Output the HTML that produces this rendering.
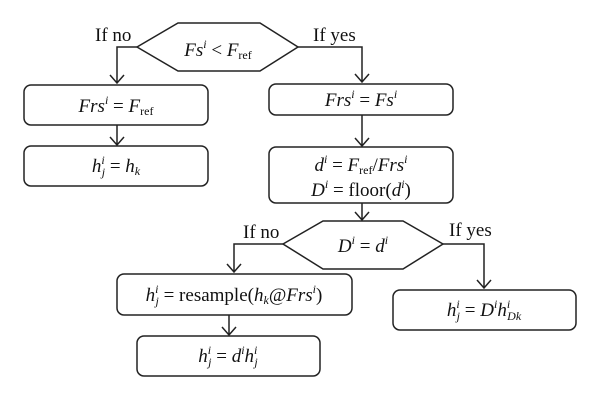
<!DOCTYPE html>
<html><head><meta charset="utf-8"><style>
html,body{margin:0;padding:0;background:#fff}
svg{display:block}
text{font-family:"Liberation Serif",serif;font-size:19px;fill:#111}
.i{font-style:italic}
.s{font-size:12px}
</style></head><body>
<svg width="600" height="401" viewBox="0 0 600 401" xmlns="http://www.w3.org/2000/svg">
<g fill="none" stroke="#222" stroke-width="1.5">
<polygon points="137,47 178,23 260,23 298,47 260,71 178,71"/>
<rect x="24" y="85" width="184" height="40" rx="7"/>
<rect x="24" y="146" width="184" height="40" rx="7"/>
<rect x="269" y="84" width="184" height="31" rx="7"/>
<rect x="269" y="147" width="184" height="56" rx="7"/>
<polygon points="283,244 323,221 403,221 443,244 403,269 323,269"/>
<rect x="117" y="274" width="235" height="41" rx="7"/>
<rect x="137" y="336" width="183" height="40" rx="7"/>
<rect x="393" y="290" width="183" height="40" rx="7"/>
<path d="M137,47 H117 V83 M110,75 L117,83 L124,75"/>
<path d="M117,125 V145 M110,137 L117,145 L124,137"/>
<path d="M298,47 H362 V82 M355,74 L362,82 L369,74"/>
<path d="M362,115 V146 M355,138 L362,146 L369,138"/>
<path d="M362,203 V220 M355,212 L362,220 L369,212"/>
<path d="M283,244 H234 V272 M227,264 L234,272 L241,264"/>
<path d="M229,315 V335 M222,327 L229,335 L236,327"/>
<path d="M443,244 H484 V288 M477,280 L484,288 L491,280"/>
</g>
<text x="95" y="41">If no</text>
<text x="313" y="41">If yes</text>
<text x="243" y="238">If no</text>
<text x="449" y="236">If yes</text>
<text x="218" y="56" text-anchor="middle"><tspan class="i">Fs</tspan><tspan class="i s" dy="-8">i</tspan><tspan dy="8"> &lt; </tspan><tspan class="i">F</tspan><tspan class="s" dy="3">ref</tspan></text>
<text x="116" y="112" text-anchor="middle"><tspan class="i">Frs</tspan><tspan class="i s" dy="-8">i</tspan><tspan dy="8"> = </tspan><tspan class="i">F</tspan><tspan class="s" dy="3">ref</tspan></text>
<text x="116" y="172" text-anchor="middle"><tspan class="i">h</tspan><tspan class="i s" dy="-8">i</tspan><tspan class="i s" dx="-3" dy="12">j</tspan><tspan dy="-4"> = </tspan><tspan class="i">h</tspan><tspan class="i s" dy="3">k</tspan></text>
<text x="361" y="106" text-anchor="middle"><tspan class="i">Frs</tspan><tspan class="i s" dy="-8">i</tspan><tspan dy="8"> = </tspan><tspan class="i">Fs</tspan><tspan class="i s" dy="-8">i</tspan></text>
<text x="361" y="171" text-anchor="middle"><tspan class="i">d</tspan><tspan class="i s" dy="-8">i</tspan><tspan dy="8"> = </tspan><tspan class="i">F</tspan><tspan class="s" dy="3">ref</tspan><tspan dy="-3">/</tspan><tspan class="i">Frs</tspan><tspan class="i s" dy="-8">i</tspan></text>
<text x="361" y="196" text-anchor="middle"><tspan class="i">D</tspan><tspan class="i s" dy="-8">i</tspan><tspan dy="8"> = floor(</tspan><tspan class="i">d</tspan><tspan class="i s" dy="-8">i</tspan><tspan dy="8">)</tspan></text>
<text x="363" y="252" text-anchor="middle"><tspan class="i">D</tspan><tspan class="i s" dy="-8">i</tspan><tspan dy="8"> = </tspan><tspan class="i">d</tspan><tspan class="i s" dy="-8">i</tspan></text>
<text x="234" y="301" text-anchor="middle"><tspan class="i">h</tspan><tspan class="i s" dy="-8">i</tspan><tspan class="i s" dx="-3" dy="12">j</tspan><tspan dy="-4"> = resample(</tspan><tspan class="i">h</tspan><tspan class="i s" dy="3">k</tspan><tspan class="i" dy="-3">@Frs</tspan><tspan class="i s" dy="-8">i</tspan><tspan dy="8">)</tspan></text>
<text x="228" y="362" text-anchor="middle"><tspan class="i">h</tspan><tspan class="i s" dy="-8">i</tspan><tspan class="i s" dx="-3" dy="12">j</tspan><tspan dy="-4"> = </tspan><tspan class="i">d</tspan><tspan class="i s" dy="-8">i</tspan><tspan class="i" dy="8">h</tspan><tspan class="i s" dy="-8">i</tspan><tspan class="i s" dx="-3" dy="12">j</tspan></text>
<text x="484" y="316" text-anchor="middle"><tspan class="i">h</tspan><tspan class="i s" dy="-8">i</tspan><tspan class="i s" dx="-3" dy="12">j</tspan><tspan dy="-4"> = </tspan><tspan class="i">D</tspan><tspan class="i s" dy="-8">i</tspan><tspan class="i" dy="8">h</tspan><tspan class="i s" dy="-8">i</tspan><tspan class="i s" dx="-3" dy="12">Dk</tspan></text>
</svg>
</body></html>
